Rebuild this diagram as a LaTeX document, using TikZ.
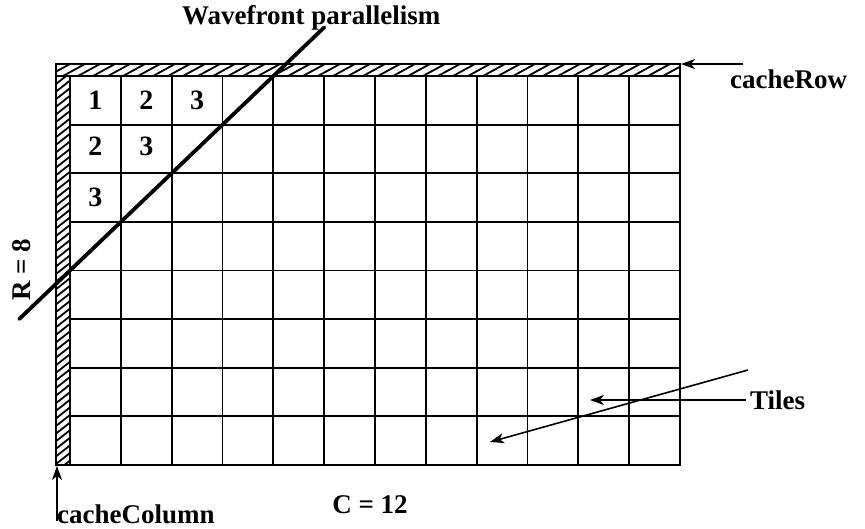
\documentclass[tikz,border=0pt]{standalone}
\usepackage{fontspec}
\setmainfont{Liberation Serif}
\usetikzlibrary{arrows.meta}
\begin{document}
\begin{tikzpicture}[x=1pt,y=-1pt,
  lbl/.style={font=\fontsize{27}{32}\selectfont\bfseries, inner sep=0pt},
  num/.style={font=\fontsize{28}{32}\selectfont\bfseries, inner sep=0pt},
  gridline/.style={line width=1.9pt},
  frameline/.style={line width=1.9pt},
  hatchline/.style={line width=1.8pt},
  wave/.style={line width=3.8pt, line cap=round},
  arr/.style={line width=1.6pt, -{Stealth[length=14pt,width=10pt,inset=4pt]}}]
\useasboundingbox (0,0) rectangle (865,529);
\def\cw{50.8333}
\def\rh{48.625}
% hatched bands
\begin{scope}
  \clip (56,64) rectangle (680,76);
  \foreach \k in {0,...,44} \draw[hatchline] (48+\k*15,76) -- (70+\k*15,64);
\end{scope}
\begin{scope}
  \clip (56,76) rectangle (70,465);
  \foreach \k in {0,...,53} \draw[hatchline] (56,84+\k*7.6) -- (70,73+\k*7.6);
\end{scope}
% grid
\foreach \i in {1,...,11} \draw[gridline] (70+\i*\cw,76) -- (70+\i*\cw,465);
\foreach \j in {1,...,7} \draw[gridline] (70,76+\j*\rh) -- (680,76+\j*\rh);
\draw[frameline] (56,64) rectangle (680,465);
\draw[frameline] (56,76) -- (680,76);
\draw[frameline] (70,76) -- (70,465);
% digits
\node[num] (d00) at (95.4,100.3) {1};
\node[num] (d10) at (146.25,100.3) {2};
\node[num] (d20) at (197.1,100.3) {3};
\node[num] (d01) at (95.4,146.0) {2};
\node[num] (d11) at (146.25,146.0) {3};
\node[num] (d02) at (95.4,197.6) {3};
% wavefront
\coordinate (wfA) at (19.2,319.1);
\coordinate (wfB) at (324.2,27.4);
\draw[wave] (wfA) -- (wfB);
\node[lbl, anchor=base west] (wft) at (182,25) {Wavefront parallelism};
% R and C labels
\node[lbl, rotate=90] (rl) at (22,270) {R = 8};
\node[lbl, anchor=base] (cl) at (370,513) {C = 12};
% cacheRow
\node[lbl, anchor=base west] (crow) at (730,89) {cacheRow};
\coordinate (rowtail) at (743,64);
\coordinate (rowtip) at (681,64);
\draw[arr] (rowtail) -- (rowtip);
% cacheColumn
\node[lbl, anchor=base west] (ccol) at (57,523) {cacheColumn};
\coordinate (coltail) at (57,521);
\coordinate (coltip) at (57,466);
\draw[arr] (coltail) -- (coltip);
% Tiles
\node[lbl, anchor=base west] (tiles) at (750,409) {Tiles};
\coordinate (tA) at (746,400);
\coordinate (tAtip) at (590,400);
\coordinate (tB) at (748,370);
\coordinate (tBtip) at (490,442);
\draw[arr] (tA) -- (tAtip);
\draw[arr] (tB) -- (tBtip);
\end{tikzpicture}
\end{document}
